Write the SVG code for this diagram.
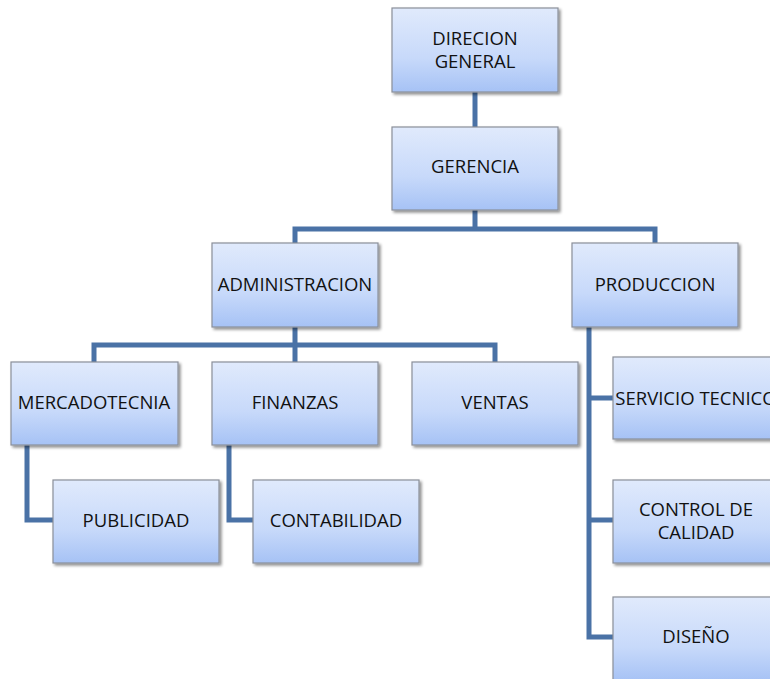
<svg xmlns="http://www.w3.org/2000/svg" width="770" height="679" viewBox="0 0 770 679">
<style>
.box{fill:url(#g);stroke:#8a8f99;stroke-width:1.2;filter:url(#sh)}
.t{font-family:"Open Sans","Liberation Sans",Arial,sans-serif;font-size:18.5px;fill:#111;text-anchor:middle}
.c{fill:none;stroke:#4a72a6;stroke-width:5;stroke-linejoin:miter}
</style>
<defs>
<linearGradient id="g" x1="0" y1="0" x2="0" y2="1">
<stop offset="0" stop-color="#e0eafc"/>
<stop offset="0.6" stop-color="#c7d9fa"/>
<stop offset="1" stop-color="#a6c2f5"/>
</linearGradient>
<filter id="sh" x="-10%" y="-10%" width="130%" height="130%">
<feGaussianBlur in="SourceAlpha" stdDeviation="1.5"/>
<feOffset dx="1.5" dy="2" result="o"/>
<feComponentTransfer><feFuncA type="linear" slope="0.45"/></feComponentTransfer>
<feMerge><feMergeNode/><feMergeNode in="SourceGraphic"/></feMerge>
</filter>
</defs>
<rect width="770" height="679" fill="#fff"/>
<g id="connectors">
<path class="c" d="M475 92V127"/>
<path class="c" d="M475 210V229H295V243M475 229H655V243"/>
<path class="c" d="M295 327V345H94V362M295 345H495V362M295 345V362"/>
<path class="c" d="M27 445V520H53"/>
<path class="c" d="M229 445V520H253"/>
<path class="c" d="M589 327V637H613M589 398H613M589 520H613"/>
</g>
<g id="direcion"><rect class="box" x="392" y="8" width="166" height="84"/><text class="t" x="475" y="45">DIRECION</text><text class="t" x="475" y="68">GENERAL</text></g>
<g id="gerencia"><rect class="box" x="392" y="127" width="166" height="83"/><text class="t" x="475" y="173">GERENCIA</text></g>
<g id="administracion"><rect class="box" x="212" y="243" width="166" height="84"/><text class="t" x="295" y="291">ADMINISTRACION</text></g>
<g id="produccion"><rect class="box" x="572" y="243" width="166" height="84"/><text class="t" x="655" y="291">PRODUCCION</text></g>
<g id="mercadotecnia"><rect class="box" x="11" y="362" width="167" height="83"/><text class="t" x="94" y="409">MERCADOTECNIA</text></g>
<g id="finanzas"><rect class="box" x="212" y="362" width="166" height="83"/><text class="t" x="295" y="409">FINANZAS</text></g>
<g id="ventas"><rect class="box" x="412" y="362" width="166" height="83"/><text class="t" x="495" y="409">VENTAS</text></g>
<g id="publicidad"><rect class="box" x="53" y="480" width="166" height="83"/><text class="t" x="136" y="527">PUBLICIDAD</text></g>
<g id="contabilidad"><rect class="box" x="253" y="480" width="166" height="83"/><text class="t" x="336" y="527">CONTABILIDAD</text></g>
<g id="servicio"><rect class="box" x="613" y="357" width="166" height="82"/><text class="t" x="696" y="405">SERVICIO TECNICO</text></g>
<g id="control"><rect class="box" x="613" y="480" width="166" height="83"/><text class="t" x="696" y="516">CONTROL DE</text><text class="t" x="696" y="539">CALIDAD</text></g>
<g id="diseno"><rect class="box" x="613" y="597" width="166" height="84"/><text class="t" x="696" y="643">DISEÑO</text></g>
</svg>
